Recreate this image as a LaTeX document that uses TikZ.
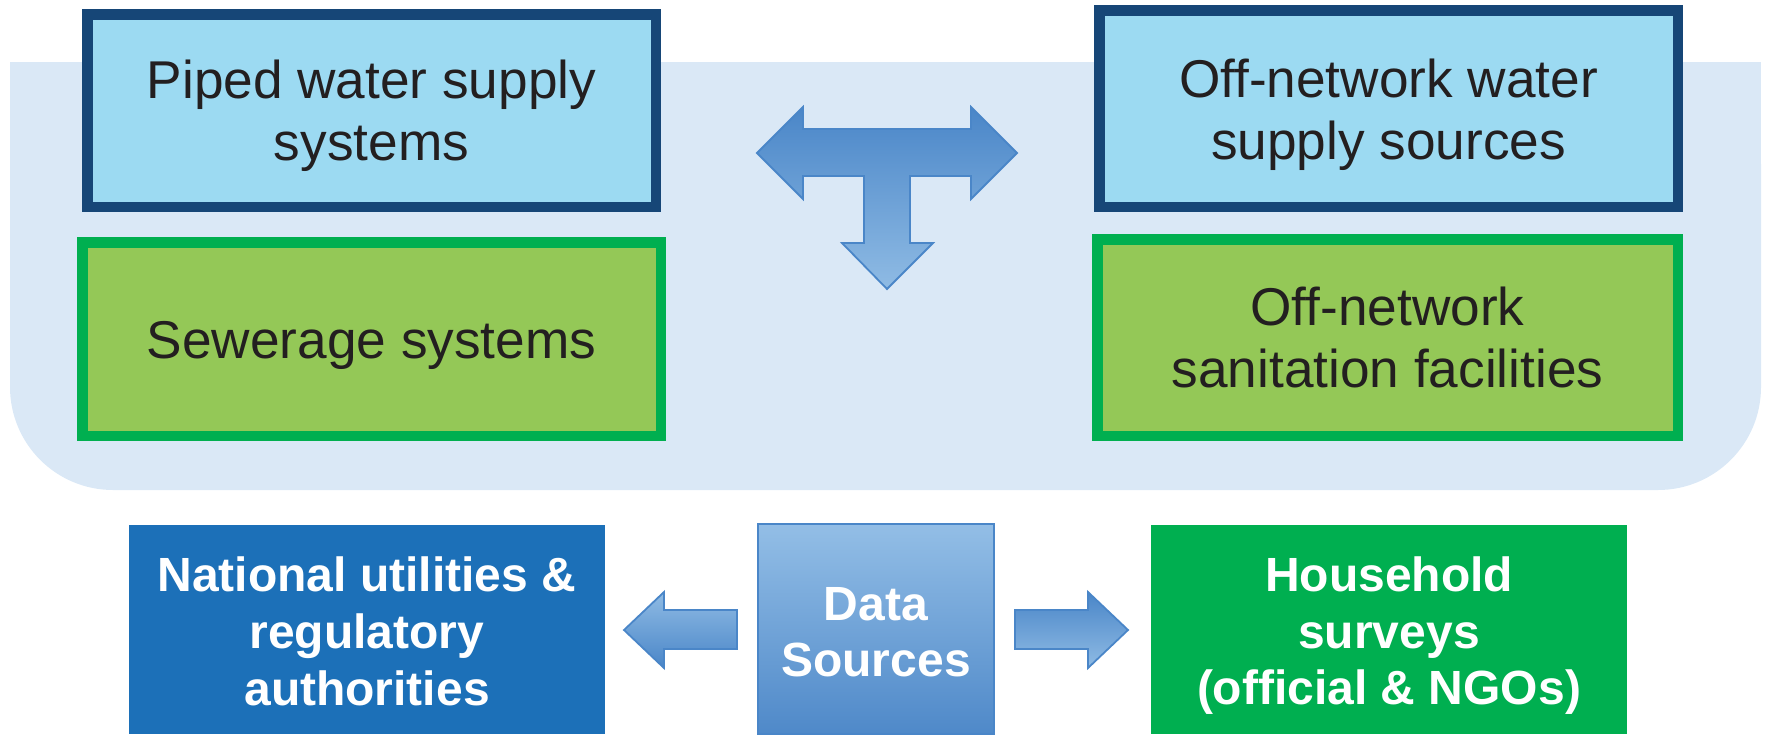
\documentclass[tikz,border=0pt]{standalone}
\usepackage{fontspec}
\setmainfont{Liberation Sans}
\definecolor{bgblue}{HTML}{DAE8F6}
\definecolor{cyanfill}{HTML}{9CDAF2}
\definecolor{navy}{HTML}{164677}
\definecolor{limefill}{HTML}{94C857}
\definecolor{greenline}{HTML}{00AF50}
\definecolor{natblue}{HTML}{1C70B8}
\definecolor{txtdark}{HTML}{231F20}
\definecolor{arrdark}{HTML}{4A86C8}
\definecolor{arrlight}{HTML}{8FBBE4}
\definecolor{datatop}{HTML}{93BEE6}
\definecolor{databot}{HTML}{4F89C9}
\begin{document}
\begin{tikzpicture}[x=0.5pt,y=-0.5pt,
  wbox/.style={draw=navy, fill=cyanfill, line width=5.25pt, inner sep=0pt},
  sbox/.style={draw=greenline, fill=limefill, line width=5.25pt, inner sep=0pt},
  srcbox/.style={inner sep=0pt, minimum width=238pt, minimum height=104.5pt},
  toptxt/.style={text=txtdark, align=center, inner sep=0pt, font=\fontsize{26.6}{31}\selectfont},
  bottxt/.style={text=white, align=center, inner sep=0pt, font=\bfseries\fontsize{24}{28.3}\selectfont},
  blockarrow/.style={draw=arrdark, line width=0.9pt, line join=miter}
]
\useasboundingbox (0,0) rectangle (1765,734);
% background panel
\fill[bgblue, rounded corners=51.5pt] (10,62) rectangle (1761,490);
\fill[bgblue] (10,62) rectangle (1761,250);

% top boxes
\node[wbox, minimum width=284.25pt, minimum height=96.25pt] (piped) at (371.5,110.5) {};
\node[sbox, minimum width=289.25pt, minimum height=96.75pt] (sewer) at (371.5,339) {};
\node[wbox, minimum width=289.25pt, minimum height=98.25pt] (offw) at (1388.5,108.5) {};
\node[sbox, minimum width=290.25pt, minimum height=98.25pt] (offs) at (1387.5,337.5) {};

\node[toptxt] (pipedtxt) at (371.5,117.3) {\strut Piped water supply\\\strut systems};
\node[toptxt] (sewtxt) at (371.5,345.8) {\strut Sewerage systems};
\node[toptxt] (offwtxt) at (1388.5,116.3) {\strut Off-network water\\\strut supply sources};
\node[toptxt] (offstxt) at (1387.5,344.3) {\strut Off-network\\\strut sanitation facilities};

% T arrow
\draw[blockarrow, top color=arrdark, bottom color=arrlight]
  (757,153) -- (803,107) -- (803,129) -- (971,129) -- (971,107) -- (1017,153)
  -- (971,199) -- (971,176) -- (910,176) -- (910,243) -- (933,243) -- (887,289)
  -- (842,243) -- (864,243) -- (864,176) -- (803,176) -- (803,199) -- cycle;

% bottom boxes
\node[srcbox, fill=natblue] (nat) at (367,629.5) {};
\node[srcbox, fill=greenline] (hh) at (1389,629.5) {};
\node[inner sep=0pt, minimum width=118pt, minimum height=105pt, draw=arrdark, line width=1pt,
      top color=datatop, bottom color=databot] (data) at (876,628.5) {};

\node[bottxt] (nattxt) at (367,637.2) {\strut National utilities \&\\\strut regulatory\\\strut authorities};
\node[bottxt] (hhtxt) at (1389,636.7) {\strut Household\\\strut surveys\\\strut (official \& NGOs)};
\node[bottxt] (datatxt) at (876,637.2) {\strut Data\\\strut Sources};

% small arrows
\draw[blockarrow, top color=arrlight, bottom color=arrdark]
  (624,630) -- (664,592) -- (664,610) -- (737,610) -- (737,649) -- (664,649) -- (664,668) -- cycle;
\draw[blockarrow, top color=arrdark, bottom color=arrlight]
  (1128,630) -- (1088,592) -- (1088,610) -- (1015,610) -- (1015,649) -- (1088,649) -- (1088,668) -- cycle;
\end{tikzpicture}
\end{document}
